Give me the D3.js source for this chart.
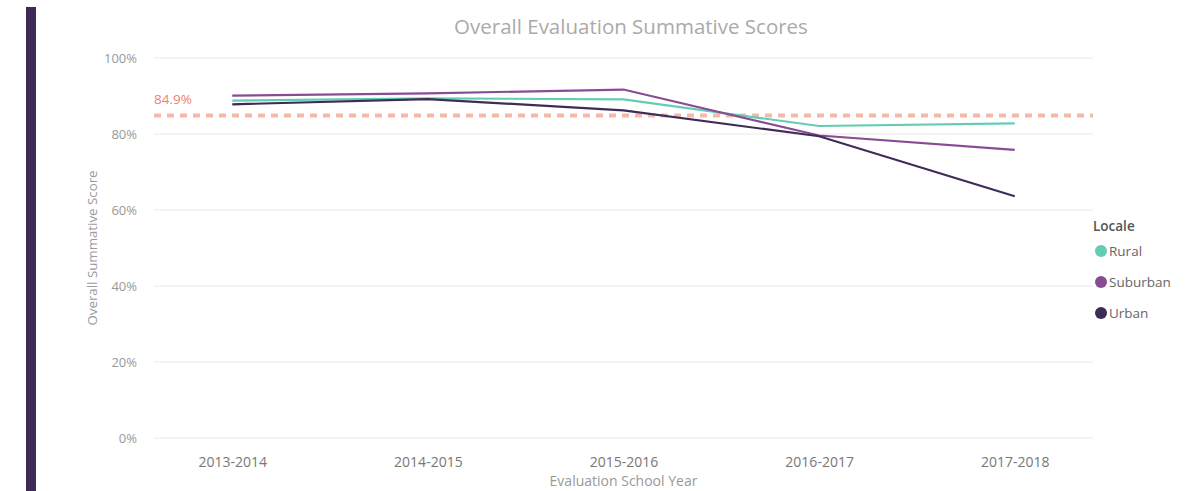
<!DOCTYPE html>
<html>
<head>
<meta charset="utf-8">
<script src="https://cdn.jsdelivr.net/npm/d3@7"></script>
<style>
  body { margin: 0; background: #fff; }
  svg text { font-family: "Open Sans", "Noto Sans", sans-serif; }
</style>
</head>
<body>
<div id="chart"></div>
<script>
// Data
var years = ["2013-2014", "2014-2015", "2015-2016", "2016-2017", "2017-2018"];
var rural = [88.8, 89.4, 89.1, 82.1, 82.8];
var suburban = [90.1, 90.7, 91.7, 79.6, 75.8];
var urban = [87.8, 89.2, 86.2, 79.4, 63.6];
var yTicks = [0, 20, 40, 60, 80, 100];
var target = 84.9;

var series = [
  {name: "Rural", values: rural, color: "#63cdb1"},
  {name: "Suburban", values: suburban, color: "#8a4b95"},
  {name: "Urban", values: urban, color: "#3e2b57"}
];

var width = 1185, height = 491;
var margin = {top: 58, right: 92, bottom: 53, left: 154};

var svg = d3.select("#chart")
  .append("svg")
  .attr("width", width)
  .attr("height", height);

// left accent bar
svg.append("rect")
  .attr("x", 26).attr("y", 7)
  .attr("width", 10).attr("height", height - 7)
  .attr("fill", "#3c2a55");

// Scales
var xScale = d3.scalePoint()
  .domain(years)
  .range([margin.left, width - margin.right])
  .padding(0.4);

var yScale = d3.scaleLinear()
  .domain([0, 100])
  .range([height - margin.bottom, margin.top]);

// Grid
svg.append("g")
  .selectAll("line")
  .data(yTicks)
  .enter().append("line")
  .attr("x1", margin.left)
  .attr("x2", width - margin.right)
  .attr("y1", d => yScale(d))
  .attr("y2", d => yScale(d))
  .attr("stroke", "#e9e9e9")
  .attr("stroke-width", 1);

// Y axis labels
var yAxis = svg.append("g")
  .attr("transform", `translate(${margin.left - 14}, 0)`)
  .call(d3.axisLeft(yScale).tickValues(yTicks).tickSize(0).tickFormat(d => d + "%"));
yAxis.select(".domain").remove();
yAxis.selectAll("text")
  .attr("fill", "#999")
  .style("font-size", "13px");

// X axis labels
var xAxis = svg.append("g")
  .attr("transform", `translate(0, ${height - margin.bottom + 16})`)
  .call(d3.axisBottom(xScale).tickSize(0));
xAxis.select(".domain").remove();
xAxis.selectAll("text")
  .attr("fill", "#777")
  .style("font-size", "14px");

// Target line
svg.append("line")
  .attr("x1", margin.left)
  .attr("x2", width - margin.right)
  .attr("y1", yScale(target))
  .attr("y2", yScale(target))
  .attr("stroke", "#f5b9a9")
  .attr("stroke-width", 4)
  .attr("stroke-dasharray", "7,6");

svg.append("text")
  .attr("x", margin.left)
  .attr("y", yScale(target) - 11)
  .attr("fill", "#f0826f")
  .style("font-size", "13.5px")
  .text(target + "%");

// Lines
var line = d3.line()
  .x((d, i) => xScale(years[i]))
  .y(d => yScale(d));

svg.selectAll(".series")
  .data(series)
  .enter().append("path")
  .attr("class", "series")
  .attr("d", d => line(d.values))
  .attr("fill", "none")
  .attr("stroke", d => d.color)
  .attr("stroke-width", 2.2);

// Title
svg.append("text")
  .attr("x", 631)
  .attr("y", 34)
  .attr("text-anchor", "middle")
  .attr("fill", "#aaa")
  .style("font-size", "20.5px")
  .text("Overall Evaluation Summative Scores");

// Axis titles
svg.append("text")
  .attr("x", xScale("2015-2016"))
  .attr("y", 486)
  .attr("text-anchor", "middle")
  .attr("fill", "#999")
  .style("font-size", "14px")
  .text("Evaluation School Year");

svg.append("text")
  .attr("transform", "rotate(-90)")
  .attr("x", -248)
  .attr("y", 97)
  .attr("text-anchor", "middle")
  .attr("fill", "#999")
  .style("font-size", "13.3px")
  .text("Overall Summative Score");

// Legend
var legend = svg.append("g").attr("transform", "translate(1093, 0)");
legend.append("text")
  .attr("x", 0).attr("y", 231)
  .attr("fill", "#555")
  .style("font-size", "13.5px")
  .style("font-weight", "600")
  .text("Locale");

var items = legend.selectAll(".item")
  .data(series)
  .enter().append("g")
  .attr("class", "item")
  .attr("transform", (d, i) => `translate(0, ${251 + i * 31})`);

items.append("circle")
  .attr("cx", 8).attr("cy", 0).attr("r", 6)
  .attr("fill", d => d.color);

items.append("text")
  .attr("x", 16).attr("y", 5)
  .attr("fill", "#666")
  .style("font-size", "13.5px")
  .text(d => d.name);
</script>
</body>
</html>
